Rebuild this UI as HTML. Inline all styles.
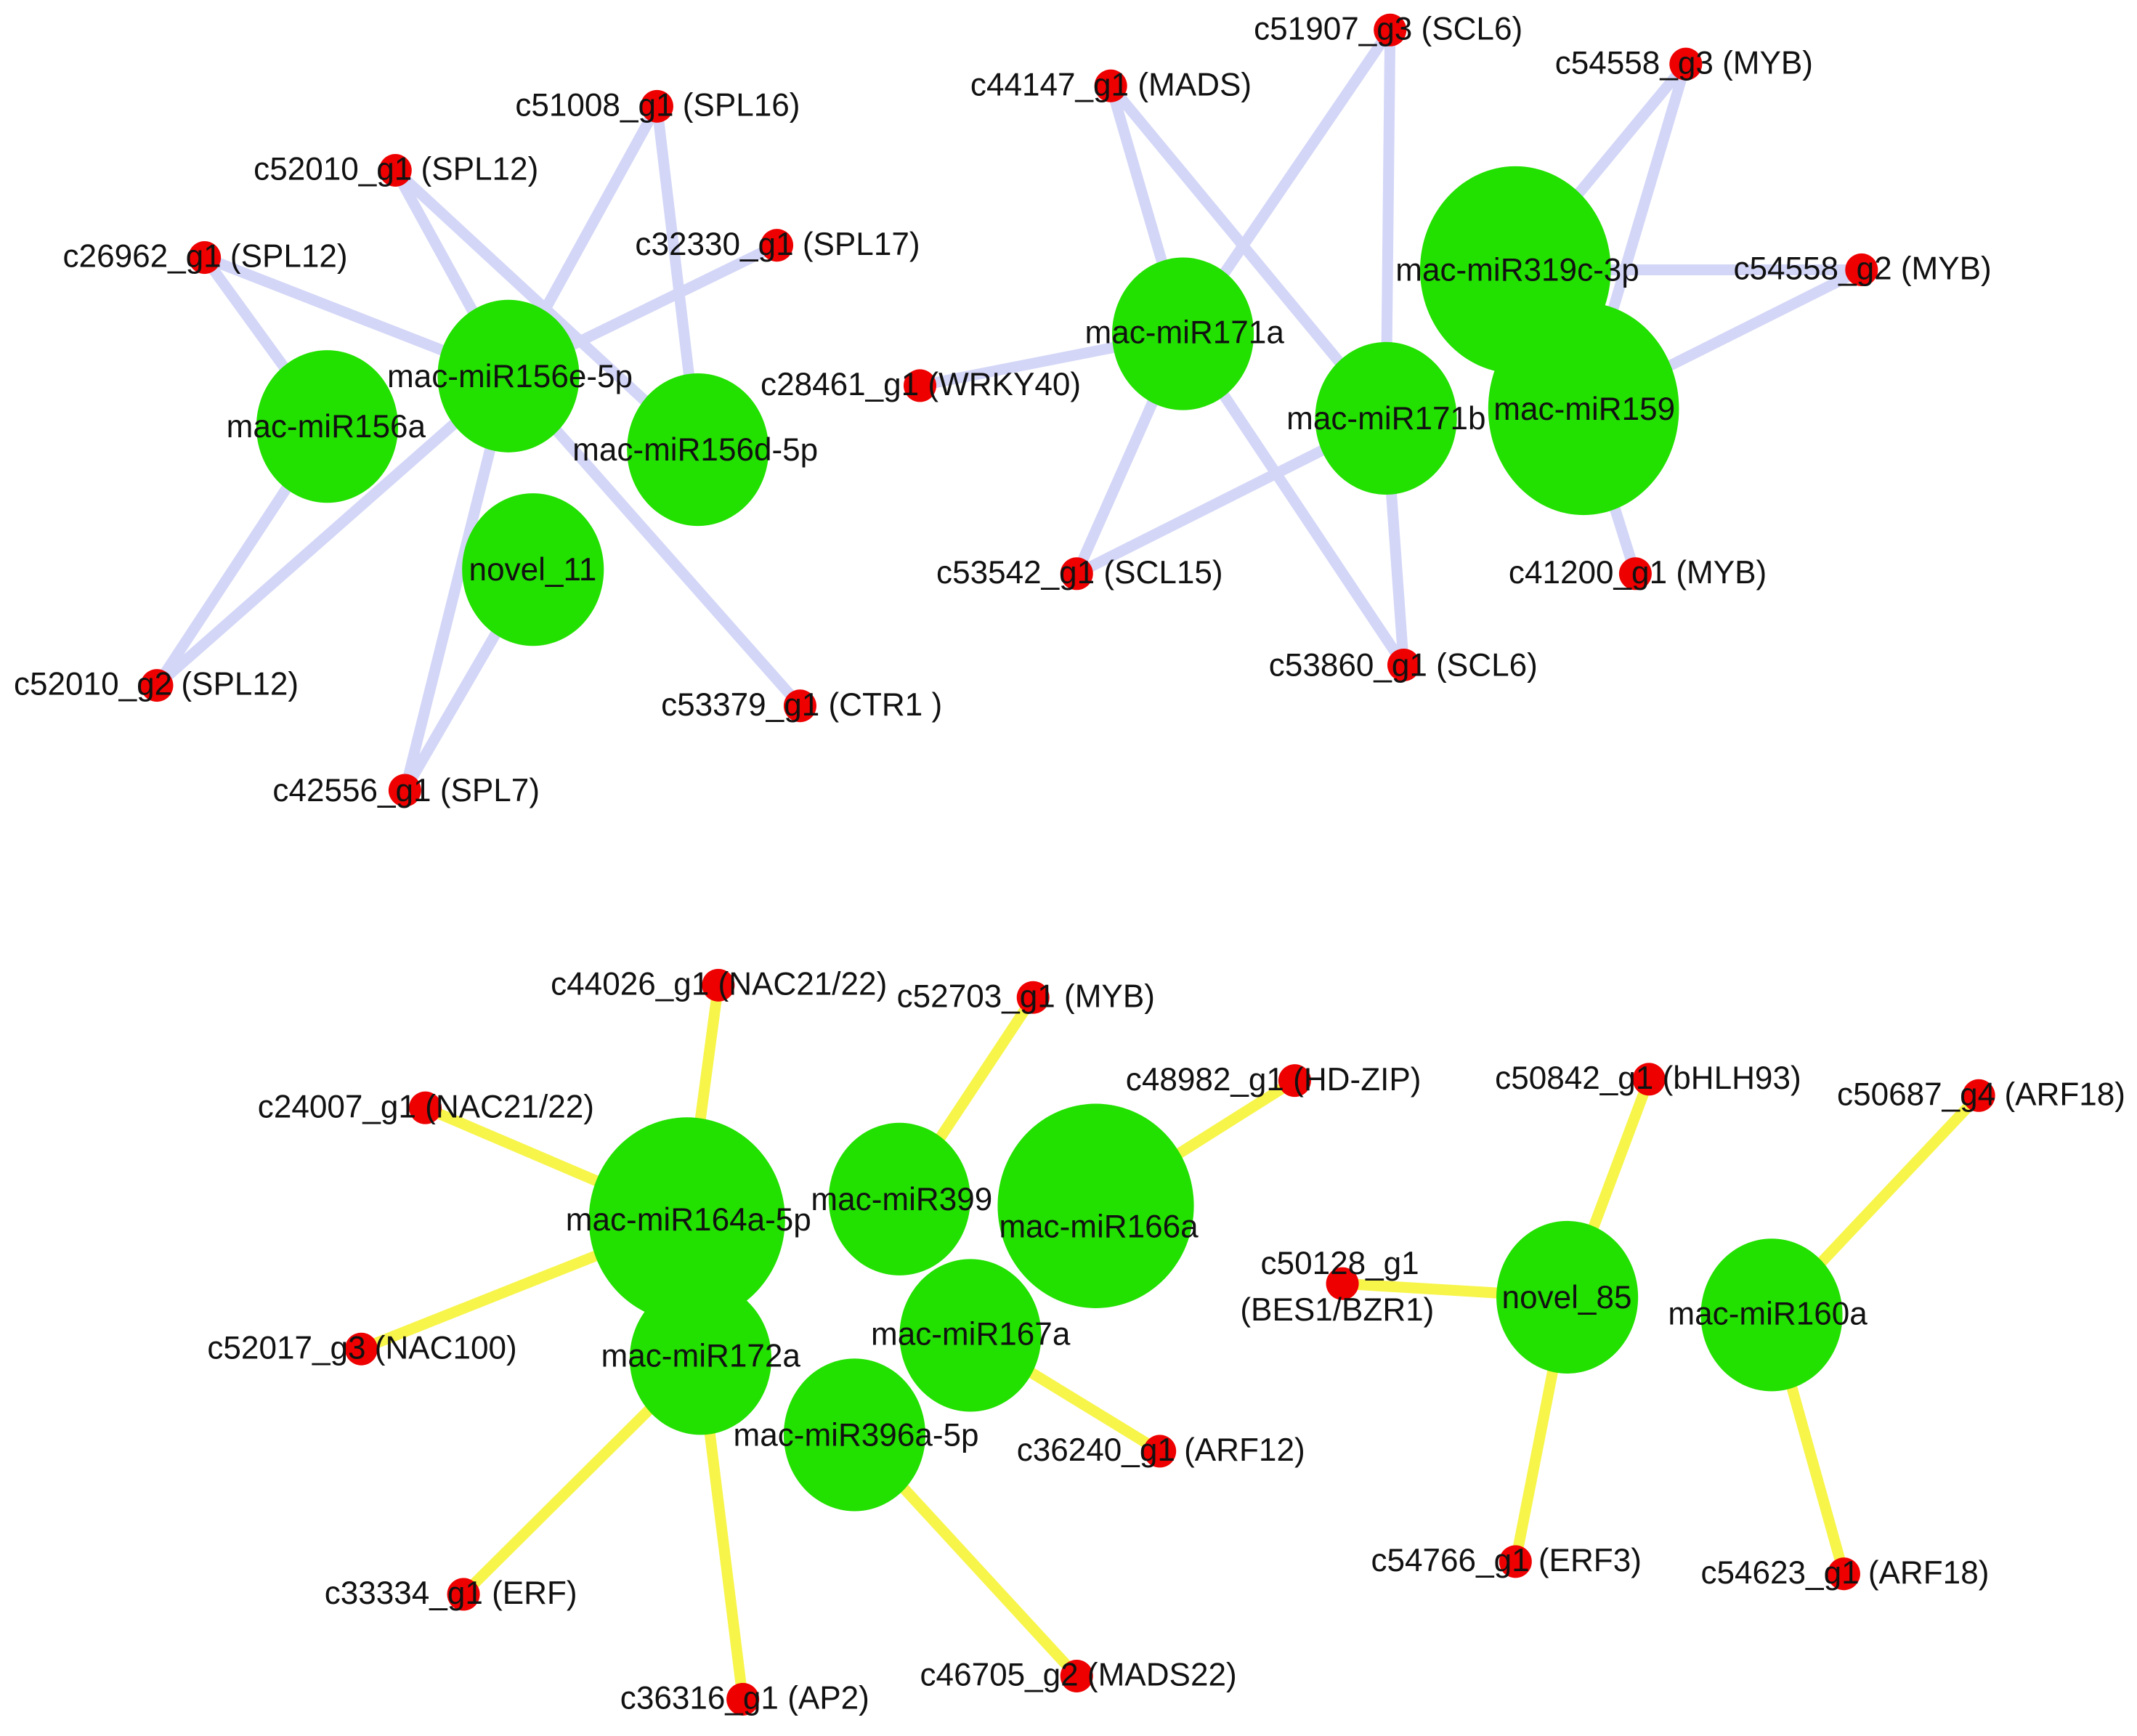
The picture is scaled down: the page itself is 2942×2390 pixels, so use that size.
<!DOCTYPE html>
<html><head><meta charset="utf-8"><style>
html,body{margin:0;padding:0;background:#fff;}
svg{display:block;}
text{font-family:"Liberation Sans",Arial,sans-serif;font-size:23.5px;fill:#111;}
</style></head><body>
<svg width="2942" height="2390" viewBox="0 0 1568 1274" xmlns="http://www.w3.org/2000/svg">
<g stroke="#d3d6f7" stroke-width="8" stroke-linecap="round">
<line x1="482" y1="78" x2="373" y2="276"/>
<line x1="482" y1="78" x2="512" y2="330"/>
<line x1="290" y1="125" x2="373" y2="276"/>
<line x1="290" y1="125" x2="512" y2="330"/>
<line x1="150" y1="189" x2="240" y2="313"/>
<line x1="150" y1="189" x2="373" y2="276"/>
<line x1="570" y1="180" x2="373" y2="276"/>
<line x1="115" y1="503" x2="240" y2="313"/>
<line x1="115" y1="503" x2="373" y2="276"/>
<line x1="297" y1="580" x2="373" y2="276"/>
<line x1="297" y1="580" x2="391" y2="418"/>
<line x1="587" y1="518" x2="373" y2="276"/>
<line x1="675" y1="283" x2="868" y2="245"/>
<line x1="815" y1="63" x2="868" y2="245"/>
<line x1="815" y1="63" x2="1017" y2="307"/>
<line x1="1020" y1="22" x2="868" y2="245"/>
<line x1="1020" y1="22" x2="1017" y2="307"/>
<line x1="790" y1="421" x2="868" y2="245"/>
<line x1="790" y1="421" x2="1017" y2="307"/>
<line x1="1030" y1="488" x2="868" y2="245"/>
<line x1="1030" y1="488" x2="1017" y2="307"/>
<line x1="1237" y1="47" x2="1112" y2="198"/>
<line x1="1237" y1="47" x2="1162" y2="300"/>
<line x1="1366" y1="198" x2="1112" y2="198"/>
<line x1="1366" y1="198" x2="1162" y2="300"/>
<line x1="1200" y1="421" x2="1162" y2="300"/>
</g>
<g stroke="#f7f54a" stroke-width="8" stroke-linecap="round">
<line x1="527" y1="723" x2="504" y2="895"/>
<line x1="312" y1="813" x2="504" y2="895"/>
<line x1="265" y1="990" x2="504" y2="895"/>
<line x1="758" y1="732" x2="660" y2="880"/>
<line x1="950" y1="793" x2="804" y2="885"/>
<line x1="851" y1="1065" x2="712" y2="980"/>
<line x1="340" y1="1170" x2="514" y2="997"/>
<line x1="545" y1="1247" x2="514" y2="997"/>
<line x1="790" y1="1230" x2="627" y2="1053"/>
<line x1="1210" y1="792" x2="1150" y2="952"/>
<line x1="985" y1="942" x2="1150" y2="952"/>
<line x1="1112" y1="1146" x2="1150" y2="952"/>
<line x1="1452" y1="804" x2="1300" y2="965"/>
<line x1="1353" y1="1155" x2="1300" y2="965"/>
</g>
<g fill="#22e000">
<ellipse cx="240" cy="313" rx="52" ry="56"/>
<ellipse cx="373" cy="276" rx="52" ry="56"/>
<ellipse cx="512" cy="330" rx="52" ry="56"/>
<ellipse cx="391" cy="418" rx="52" ry="56"/>
<ellipse cx="868" cy="245" rx="52" ry="56"/>
<ellipse cx="1017" cy="307" rx="52" ry="56"/>
<ellipse cx="1112" cy="198" rx="70" ry="76"/>
<ellipse cx="1162" cy="300" rx="70" ry="78"/>
<ellipse cx="504" cy="895" rx="72" ry="75"/>
<ellipse cx="660" cy="880" rx="52" ry="56"/>
<ellipse cx="804" cy="885" rx="72" ry="75"/>
<ellipse cx="514" cy="997" rx="52" ry="56"/>
<ellipse cx="712" cy="980" rx="52" ry="56"/>
<ellipse cx="627" cy="1053" rx="52" ry="56"/>
<ellipse cx="1150" cy="952" rx="52" ry="56"/>
<ellipse cx="1300" cy="965" rx="52" ry="56"/>
</g>
<g fill="#ee0000">
<circle cx="482" cy="78" r="12"/><circle cx="290" cy="125" r="12"/><circle cx="150" cy="189" r="12"/>
<circle cx="570" cy="180" r="12"/><circle cx="675" cy="283" r="12"/><circle cx="115" cy="503" r="12"/>
<circle cx="587" cy="518" r="12"/><circle cx="297" cy="580" r="12"/>
<circle cx="1020" cy="22" r="12"/><circle cx="815" cy="63" r="12"/><circle cx="1237" cy="47" r="12"/>
<circle cx="1366" cy="198" r="12"/><circle cx="790" cy="421" r="12"/><circle cx="1200" cy="421" r="12"/>
<circle cx="1030" cy="488" r="12"/>
<circle cx="527" cy="723" r="12"/><circle cx="758" cy="732" r="12"/><circle cx="312" cy="813" r="12"/>
<circle cx="950" cy="793" r="12"/><circle cx="1210" cy="792" r="12"/><circle cx="1452" cy="804" r="12"/>
<circle cx="265" cy="990" r="12"/><circle cx="985" cy="942" r="12"/><circle cx="851" cy="1065" r="12"/>
<circle cx="340" cy="1170" r="12"/><circle cx="545" cy="1247" r="12"/><circle cx="790" cy="1230" r="12"/>
<circle cx="1112" cy="1146" r="12"/><circle cx="1353" cy="1155" r="12"/>
</g>
<g>
<text x="166" y="321">mac-miR156a</text>
<text x="284" y="284">mac-miR156e-5p</text>
<text x="420" y="338">mac-miR156d-5p</text>
<text x="344" y="426">novel_11</text>
<text x="796" y="252">mac-miR171a</text>
<text x="944" y="315">mac-miR171b</text>
<text x="1024" y="206">mac-miR319c-3p</text>
<text x="1096" y="308">mac-miR159</text>
<text x="415" y="903">mac-miR164a-5p</text>
<text x="595" y="888">mac-miR399</text>
<text x="733" y="908">mac-miR166a</text>
<text x="441" y="1003">mac-miR172a</text>
<text x="639" y="987">mac-miR167a</text>
<text x="538" y="1061">mac-miR396a-5p</text>
<text x="1102" y="960">novel_85</text>
<text x="1224" y="972">mac-miR160a</text>

<text x="378" y="85">c51008_g1 (SPL16)</text>
<text x="186" y="132">c52010_g1 (SPL12)</text>
<text x="46" y="196">c26962_g1 (SPL12)</text>
<text x="466" y="187">c32330_g1 (SPL17)</text>
<text x="558" y="290">c28461_g1 (WRKY40)</text>
<text x="10" y="510">c52010_g2 (SPL12)</text>
<text x="485" y="525">c53379_g1 (CTR1 )</text>
<text x="200" y="588">c42556_g1 (SPL7)</text>
<text x="920" y="29">c51907_g3 (SCL6)</text>
<text x="712" y="70">c44147_g1 (MADS)</text>
<text x="1141" y="54">c54558_g3 (MYB)</text>
<text x="1272" y="205">c54558_g2 (MYB)</text>
<text x="687" y="428">c53542_g1 (SCL15)</text>
<text x="1107" y="428">c41200_g1 (MYB)</text>
<text x="931" y="496">c53860_g1 (SCL6)</text>
<text x="404" y="730">c44026_g1 (NAC21/22)</text>
<text x="658" y="739">c52703_g1 (MYB)</text>
<text x="189" y="820">c24007_g1 (NAC21/22)</text>
<text x="826" y="800">c48982_g1 (HD-ZIP)</text>
<text x="1097" y="799">c50842_g1 (bHLH93)</text>
<text x="1348" y="811">c50687_g4 (ARF18)</text>
<text x="152" y="997">c52017_g3 (NAC100)</text>
<text x="925" y="935">c50128_g1</text>
<text x="910" y="969">(BES1/BZR1)</text>
<text x="746" y="1072">c36240_g1 (ARF12)</text>
<text x="238" y="1177">c33334_g1 (ERF)</text>
<text x="455" y="1254">c36316_g1 (AP2)</text>
<text x="675" y="1237">c46705_g2 (MADS22)</text>
<text x="1006" y="1153">c54766_g1 (ERF3)</text>
<text x="1248" y="1162">c54623_g1 (ARF18)</text>
</g>
</svg>
</body></html>
